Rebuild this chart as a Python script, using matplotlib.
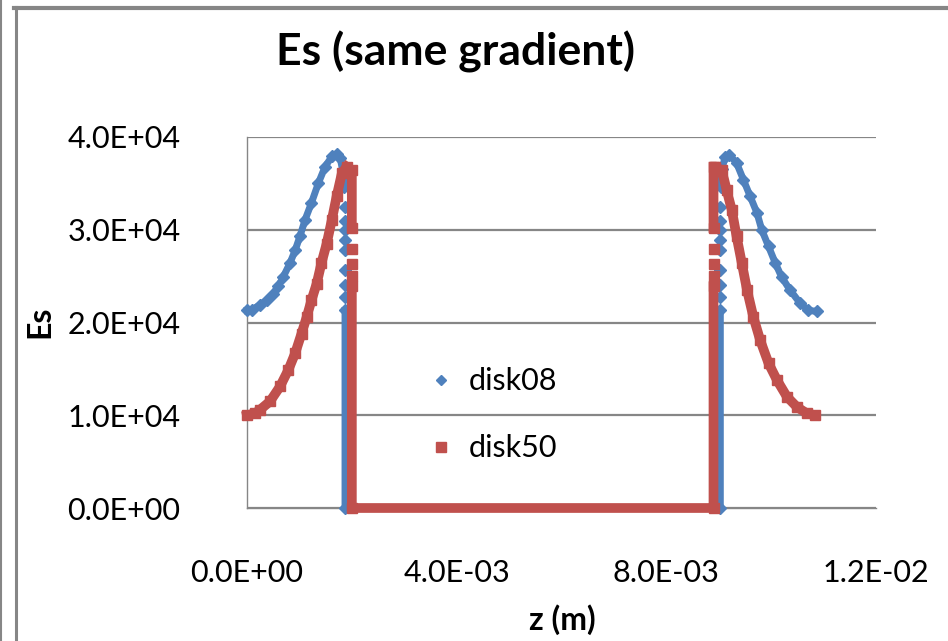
import numpy as np
import matplotlib
matplotlib.use("Agg")
import matplotlib.pyplot as plt
from matplotlib.lines import Line2D

plt.rcParams["font.family"] = ["Lato", "DejaVu Sans"]

nan = np.nan

# disk08: z en mm, Es en unidades de 1e4 (nan = hueco entre marcadores)
z_disk08 = [0.00, 0.10, 0.25, 0.38, 0.50, 0.60, 0.69, 0.82, 0.92, 1.01, 1.11, 1.23,
            1.36, 1.49, 1.62, 1.71, 1.78, 1.83, 1.86,
            nan, 1.87, nan, 1.87, nan, 1.87, nan, 1.87, nan, 1.87, nan, 1.87, nan,
            1.87, nan, 1.87, nan,
            1.87, 1.87, 9.03, 9.03,
            nan, 9.03, nan, 9.03, nan, 9.03, nan, 9.03, nan, 9.03, nan, 9.03, nan,
            9.03, nan, 9.03, nan,
            9.04, 9.06, 9.12, 9.20, 9.34, 9.47, 9.60, 9.73, 9.82, 9.95, 10.08, 10.20,
            10.36, 10.55, 10.71, 10.87]
es_disk08 = [2.13, 2.14, 2.19, 2.24, 2.31, 2.39, 2.49, 2.64, 2.78, 2.93, 3.11, 3.29,
             3.50, 3.68, 3.79, 3.82, 3.77, 3.62, 3.46,
             nan, 3.25, nan, 3.09, nan, 3.00, nan, 2.89, nan, 2.78, nan, 2.57, nan,
             2.40, nan, 2.28, nan,
             2.13, 0.00, 0.00, 2.13,
             nan, 2.28, nan, 2.40, nan, 2.57, nan, 2.78, nan, 2.89, nan, 3.00, nan,
             3.09, nan, 3.25, nan,
             3.46, 3.65, 3.78, 3.81, 3.72, 3.54, 3.36, 3.18, 3.00, 2.82, 2.64, 2.49,
             2.35, 2.21, 2.13, 2.12]

# disk50
z_disk50 = [0.00, 0.15, 0.25, 0.44, 0.63, 0.79, 0.92, 1.04, 1.14, 1.23, 1.33, 1.42,
            1.52, 1.62, 1.71, 1.81, 1.90, 2.00, 2.00,
            nan, 2.00, nan, 2.00, nan, 2.00, nan,
            2.00, 2.00, 8.90, 8.90,
            nan, 8.90, nan, 8.90, nan, 8.90, nan,
            8.90, 8.90, 8.93, 9.06, 9.15, 9.25, 9.34, 9.44, 9.54, 9.66, 9.79, 9.95,
            10.11, 10.30, 10.49, 10.68, 10.84]
es_disk50 = [1.00, 1.02, 1.06, 1.15, 1.31, 1.49, 1.67, 1.88, 2.06, 2.24, 2.42, 2.64,
             2.85, 3.11, 3.36, 3.61, 3.68, 3.64, 3.02,
             nan, 2.79, nan, 2.63, nan, 2.50, nan,
             2.39, 0.00, 0.00, 2.39,
             nan, 2.50, nan, 2.63, nan, 2.79, nan,
             3.02, 3.68, 3.68, 3.64, 3.43, 3.21, 2.93, 2.64, 2.35, 2.06, 1.81, 1.56,
             1.38, 1.20, 1.09, 1.02, 1.00]

x_ticks = [0.0, 0.004, 0.008, 0.012]
x_tick_labels = ["0.0E+00", "4.0E-03", "8.0E-03", "1.2E-02"]
y_ticks = [0, 10000, 20000, 30000, 40000]
y_tick_labels = ["0.0E+00", "1.0E+04", "2.0E+04", "3.0E+04", "4.0E+04"]

blue = "#4F81BD"
red = "#C0504D"
gris = "#868686"

fig = plt.figure(figsize=(9.48, 6.41), dpi=100)
ax = fig.add_axes([247 / 948, 133 / 641, 629 / 948, 371 / 641])

ax.plot(np.array(z_disk08) * 1e-3, np.array(es_disk08) * 1e4, color=blue, lw=5,
        marker="D", ms=6, mec=blue, clip_on=False, zorder=3)
ax.plot(np.array(z_disk50) * 1e-3, np.array(es_disk50) * 1e4, color=red, lw=7,
        marker="s", ms=7, mec=red, solid_joinstyle="miter", clip_on=False, zorder=4)

ax.set_xlim(0, 0.012)
ax.set_ylim(0, 40000)
ax.set_xticks(x_ticks)
ax.set_xticklabels(x_tick_labels)
ax.set_yticks(y_ticks)
ax.set_yticklabels(y_tick_labels)
ax.tick_params(axis="both", length=0, labelsize=22)
ax.tick_params(axis="x", pad=37)
ax.tick_params(axis="y", pad=48)

ax.yaxis.grid(True, color=gris, lw=1.6)
ax.set_axisbelow(True)
for s in ["top", "right"]:
    ax.spines[s].set_visible(False)
ax.spines["left"].set_color(gris)
ax.spines["bottom"].set_color(gris)
ax.spines["left"].set_linewidth(1)
ax.spines["bottom"].set_linewidth(1)

# Leyenda
handles = [Line2D([], [], ls="none", marker="D", ms=5, color=blue),
           Line2D([], [], ls="none", marker="s", ms=7, color=red)]
ax.legend(handles, ["disk08", "disk50"], loc="upper left", frameon=False,
          fontsize=22, labelspacing=1.27, handletextpad=0.3, handlelength=1.2,
          bbox_to_anchor=(395 / 948, 1 - 340 / 641), bbox_transform=fig.transFigure)

# Textos
fig.text(455 / 948, 1 - 52 / 641, "Es (same gradient)", ha="center", va="center",
         fontsize=32, fontweight="bold")
fig.text(562 / 948, 1 - 620 / 641, "z (m)", ha="center", va="center",
         fontsize=23, fontweight="bold")
fig.text(40 / 948, 1 - 322 / 641, "Es", ha="center", va="center", rotation=90,
         fontsize=23, fontweight="bold")

# Marco del grafico
fig.add_artist(Line2D([1 / 948, 1 / 948], [0, 1], color=gris, lw=1.5,
                      transform=fig.transFigure))
fig.add_artist(Line2D([15.5 / 948, 15.5 / 948], [0, 1 - 7 / 641], color=gris, lw=2.2,
                      transform=fig.transFigure))
fig.add_artist(Line2D([14 / 948, 1], [1 - 7.5 / 641, 1 - 7.5 / 641], color=gris, lw=3,
                      transform=fig.transFigure))

fig.savefig("out.png", dpi=100)
